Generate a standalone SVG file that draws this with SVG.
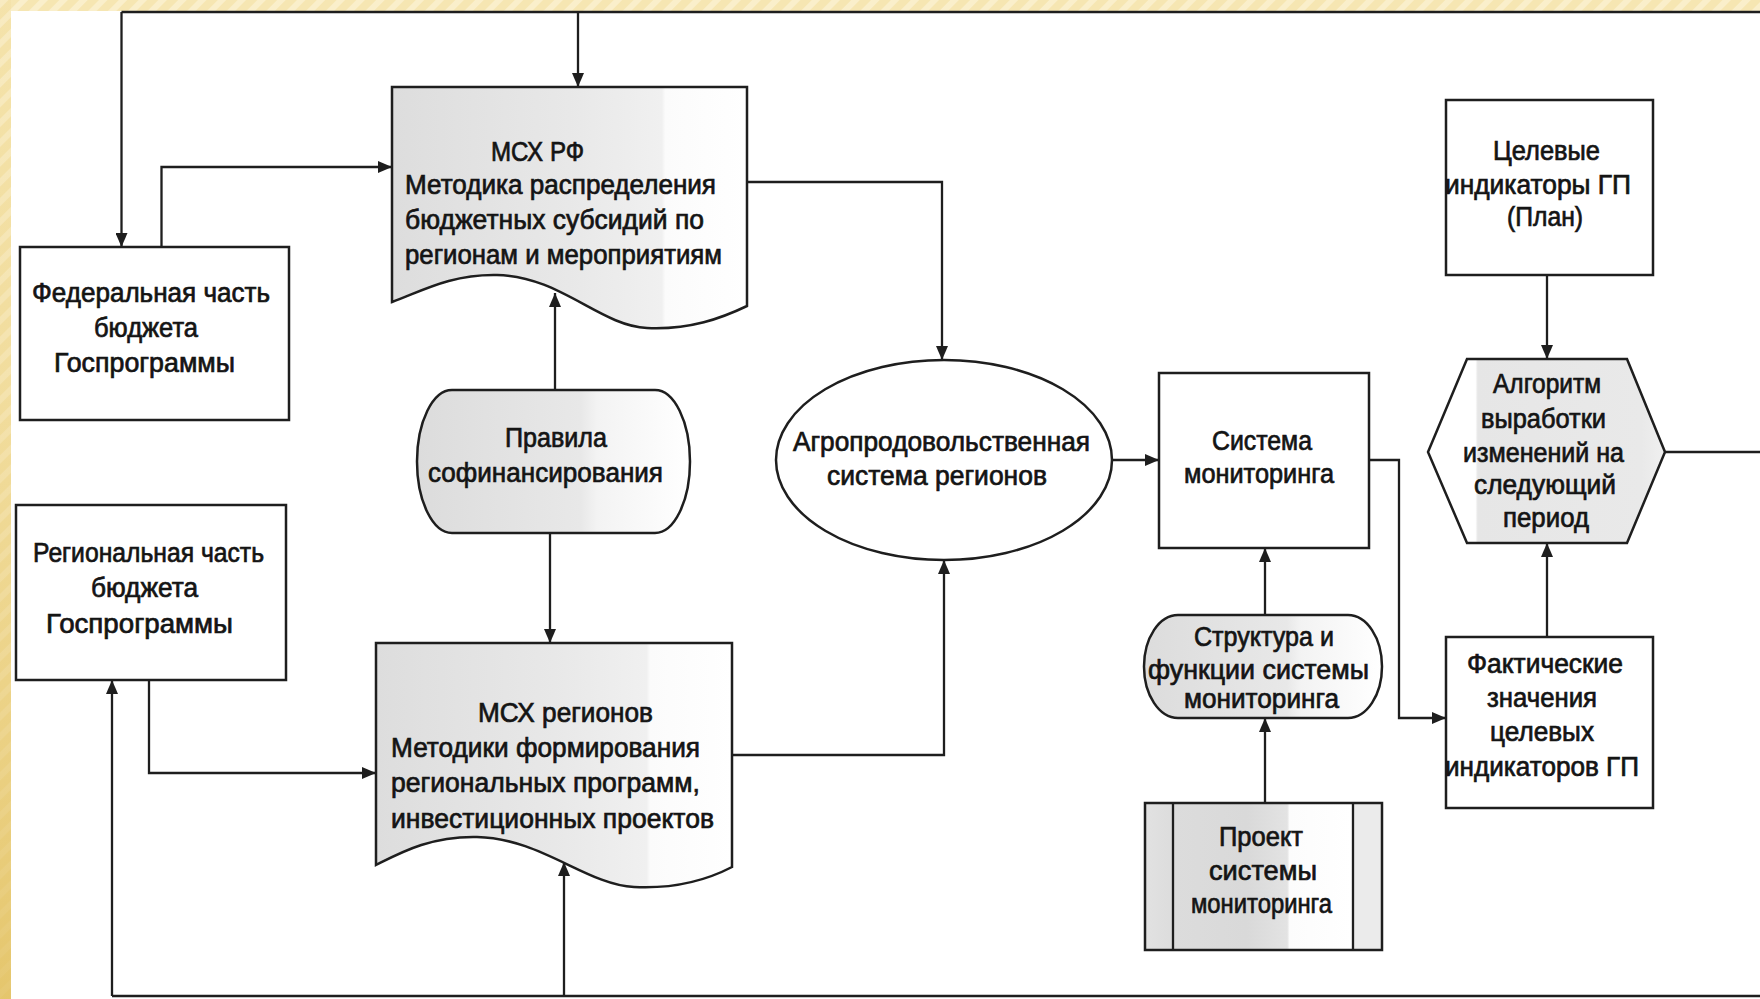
<svg xmlns="http://www.w3.org/2000/svg" width="1760" height="999" viewBox="0 0 1760 999">
<defs>
<style>
.box{fill:#fff;stroke:#1e1e1e;stroke-width:2.5}
.shape{stroke:#1e1e1e;stroke-width:2.5}
.ln{fill:none;stroke:#1e1e1e;stroke-width:2.3}
.ar{marker-end:url(#ah)}
text{font-family:"Liberation Sans",Arial,sans-serif;font-size:27px;fill:#141414;stroke:#141414;stroke-width:0.7}
</style>
<marker id="ah" markerUnits="userSpaceOnUse" markerWidth="14" markerHeight="12" refX="14" refY="6" orient="auto">
<path d="M0,0 L14,6 L0,12 Z" fill="#1e1e1e"/>
</marker>
<pattern id="stripes" patternUnits="userSpaceOnUse" width="14" height="14" patternTransform="rotate(45)">
<rect width="14" height="14" fill="#f6e6b2"/>
<rect width="6" height="14" fill="#faefcb"/>
</pattern>
<linearGradient id="leftband" x1="0" y1="0" x2="0" y2="1">
<stop offset="0" stop-color="#e6c66a" stop-opacity="0.1"/>
<stop offset="0.4" stop-color="#e6c66a" stop-opacity="0.3"/>
<stop offset="1" stop-color="#dfbb55" stop-opacity="0.75"/>
</linearGradient>
<linearGradient id="gDoc" x1="0" y1="0" x2="1" y2="0">
<stop offset="0" stop-color="#dddddd"/>
<stop offset="0.5" stop-color="#e8e8e8"/>
<stop offset="0.76" stop-color="#f0f0f0"/>
<stop offset="0.77" stop-color="#fbfbfb"/>
<stop offset="1" stop-color="#ffffff"/>
</linearGradient>
<linearGradient id="gTerm" x1="0" y1="0" x2="1" y2="0">
<stop offset="0" stop-color="#dcdcdc"/>
<stop offset="0.6" stop-color="#e8e8e8"/>
<stop offset="0.66" stop-color="#f3f3f3"/>
<stop offset="1" stop-color="#ffffff"/>
</linearGradient>
<linearGradient id="gHex" x1="0" y1="0" x2="1" y2="0">
<stop offset="0" stop-color="#ffffff"/>
<stop offset="0.2" stop-color="#ffffff"/>
<stop offset="0.21" stop-color="#e6e6e6"/>
<stop offset="0.9" stop-color="#e9e9e9"/>
<stop offset="1" stop-color="#f0f0f0"/>
</linearGradient>
<linearGradient id="gProj" x1="0" y1="0" x2="1" y2="0">
<stop offset="0" stop-color="#e2e2e2"/>
<stop offset="0.12" stop-color="#dcdcdc"/>
<stop offset="0.43" stop-color="#d9d9d9"/>
<stop offset="0.6" stop-color="#e3e3e3"/>
<stop offset="0.61" stop-color="#fcfcfc"/>
<stop offset="0.87" stop-color="#ffffff"/>
<stop offset="0.88" stop-color="#ebebeb"/>
<stop offset="1" stop-color="#ebebeb"/>
</linearGradient>
</defs>

<!-- frame -->
<rect x="0" y="0" width="1760" height="999" fill="url(#stripes)"/>
<rect x="0" y="0" width="11" height="999" fill="url(#leftband)"/>
<rect x="11" y="11" width="1749" height="988" fill="#ffffff"/>

<g id="connectors">
<path class="ln" d="M121.5,12 H1760"/>
<path class="ln ar" d="M121.5,12 V247"/>
<path class="ln ar" d="M578,12 V87"/>
<path class="ln ar" d="M161.5,247 V167 H392"/>
<path class="ln ar" d="M747,182 H942 V360"/>
<path class="ln ar" d="M555,390 V293"/>
<path class="ln ar" d="M550,533 V643"/>
<path class="ln ar" d="M1112,460 H1159"/>
<path class="ln ar" d="M1369,460 H1399 V718 H1446"/>
<path class="ln ar" d="M1547,275 V359"/>
<path class="ln ar" d="M1547,637 V543"/>
<path class="ln" d="M1665,452 H1760"/>
<path class="ln ar" d="M1265,615 V548"/>
<path class="ln ar" d="M1265,803 V718"/>
<path class="ln ar" d="M149,680 V773 H376"/>
<path class="ln ar" d="M732,755 H944 V560"/>
<path class="ln" d="M112,996 H1760"/>
<path class="ln ar" d="M112,996 V680"/>
<path class="ln ar" d="M564,996 V862"/>
</g>

<g id="federal">
<rect class="box" x="20" y="247" width="269" height="173"/>
<text x="32" y="302" textLength="238" lengthAdjust="spacingAndGlyphs">Федеральная часть</text>
<text x="94" y="337" textLength="104" lengthAdjust="spacingAndGlyphs">бюджета</text>
<text x="54" y="372" textLength="181" lengthAdjust="spacingAndGlyphs">Госпрограммы</text>
</g>

<g id="regional">
<rect class="box" x="16" y="505" width="270" height="175"/>
<text x="33" y="562" textLength="231" lengthAdjust="spacingAndGlyphs">Региональная часть</text>
<text x="91" y="597" textLength="107" lengthAdjust="spacingAndGlyphs">бюджета</text>
<text x="46" y="633" textLength="187" lengthAdjust="spacingAndGlyphs">Госпрограммы</text>
</g>

<g id="msx-rf">
<path class="shape" fill="url(#gDoc)" d="M392,87 H747 V306 C722,318 690,330 647,328 C600,326 560,276 497,275 C450,274 420,292 392,302 Z"/>
<text x="491" y="161" textLength="93" lengthAdjust="spacingAndGlyphs">МСХ РФ</text>
<text x="405" y="194" textLength="311" lengthAdjust="spacingAndGlyphs">Методика  распределения</text>
<text x="405" y="229" textLength="299" lengthAdjust="spacingAndGlyphs">бюджетных субсидий по</text>
<text x="405" y="264" textLength="317" lengthAdjust="spacingAndGlyphs">регионам и мероприятиям</text>
</g>

<g id="pravila">
<path class="shape" fill="url(#gTerm)" d="M452,390 H655 A35,71.5 0 0 1 655,533 H452 A35,71.5 0 0 1 452,390 Z"/>
<text x="505" y="447" textLength="102" lengthAdjust="spacingAndGlyphs">Правила</text>
<text x="428" y="482" textLength="235" lengthAdjust="spacingAndGlyphs">софинансирования</text>
</g>

<g id="msx-regions">
<path class="shape" fill="url(#gDoc)" d="M376,643 H732 V867 C707,880 675,889 634,887 C587,885 540,838 477,837 C430,836 400,853 376,865 Z"/>
<text x="478" y="722" textLength="175" lengthAdjust="spacingAndGlyphs">МСХ регионов</text>
<text x="391" y="757" textLength="309" lengthAdjust="spacingAndGlyphs">Методики формирования</text>
<text x="391" y="792" textLength="309" lengthAdjust="spacingAndGlyphs">региональных программ,</text>
<text x="391" y="828" textLength="323" lengthAdjust="spacingAndGlyphs">инвестиционных проектов</text>
</g>

<g id="agro">
<ellipse class="box" cx="944" cy="460" rx="168" ry="100"/>
<text x="793" y="451" textLength="297" lengthAdjust="spacingAndGlyphs">Агропродовольственная</text>
<text x="827" y="485" textLength="220" lengthAdjust="spacingAndGlyphs">система регионов</text>
</g>

<g id="monitoring">
<rect class="box" x="1159" y="373" width="210" height="175"/>
<text x="1212" y="450" textLength="100" lengthAdjust="spacingAndGlyphs">Система</text>
<text x="1184" y="483" textLength="150" lengthAdjust="spacingAndGlyphs">мониторинга</text>
</g>

<g id="targets">
<rect class="box" x="1446" y="100" width="207" height="175"/>
<text x="1493" y="160" textLength="107" lengthAdjust="spacingAndGlyphs">Целевые</text>
<text x="1445" y="194" textLength="186" lengthAdjust="spacingAndGlyphs">индикаторы ГП</text>
<text x="1507" y="226" textLength="76" lengthAdjust="spacingAndGlyphs">(План)</text>
</g>

<g id="algorithm">
<polygon class="shape" fill="url(#gHex)" points="1467,359 1627,359 1665,452 1627,543 1467,543 1428,452"/>
<text x="1493" y="393" textLength="108" lengthAdjust="spacingAndGlyphs">Алгоритм</text>
<text x="1481" y="428" textLength="125" lengthAdjust="spacingAndGlyphs">выработки</text>
<text x="1463" y="462" textLength="161" lengthAdjust="spacingAndGlyphs">изменений на</text>
<text x="1474" y="494" textLength="142" lengthAdjust="spacingAndGlyphs">следующий</text>
<text x="1503" y="527" textLength="86" lengthAdjust="spacingAndGlyphs">период</text>
</g>

<g id="facts">
<rect class="box" x="1446" y="637" width="207" height="171"/>
<text x="1467" y="673" textLength="156" lengthAdjust="spacingAndGlyphs">Фактические</text>
<text x="1487" y="707" textLength="110" lengthAdjust="spacingAndGlyphs">значения</text>
<text x="1490" y="741" textLength="104" lengthAdjust="spacingAndGlyphs">целевых</text>
<text x="1445" y="776" textLength="194" lengthAdjust="spacingAndGlyphs">индикаторов ГП</text>
</g>

<g id="structure">
<path class="shape" fill="url(#gTerm)" d="M1178,615 H1348 A34,51.5 0 0 1 1348,718 H1178 A34,51.5 0 0 1 1178,615 Z"/>
<text x="1194" y="646" textLength="140" lengthAdjust="spacingAndGlyphs">Структура и</text>
<text x="1148" y="679" textLength="221" lengthAdjust="spacingAndGlyphs">функции системы</text>
<text x="1184" y="708" textLength="155" lengthAdjust="spacingAndGlyphs">мониторинга</text>
</g>

<g id="project">
<rect class="shape" fill="url(#gProj)" x="1145" y="803" width="237" height="147"/>
<path class="ln" d="M1173,803 V950 M1353,803 V950"/>
<text x="1219" y="846" textLength="84" lengthAdjust="spacingAndGlyphs">Проект</text>
<text x="1209" y="880" textLength="108" lengthAdjust="spacingAndGlyphs">системы</text>
<text x="1191" y="913" textLength="141" lengthAdjust="spacingAndGlyphs">мониторинга</text>
</g>
</svg>
